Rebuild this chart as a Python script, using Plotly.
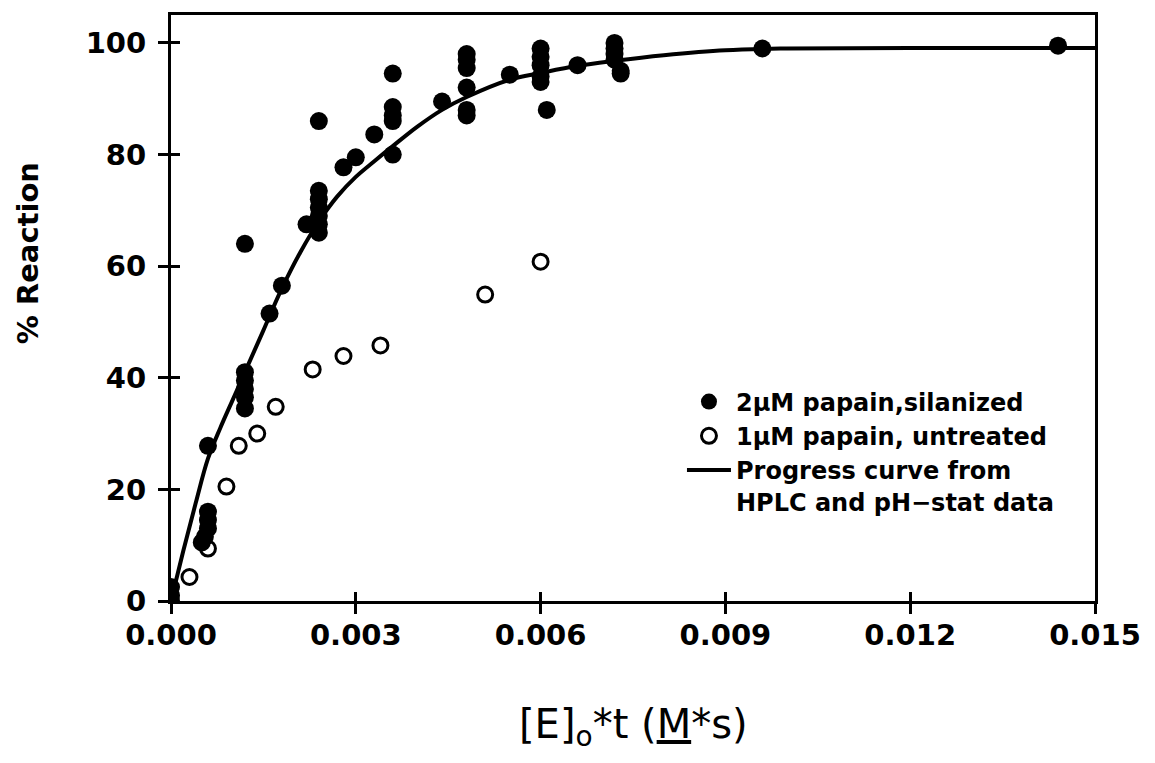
import plotly.graph_objects as go

# ---- data ----
silanized_x = [0, 0, 0,
               0.0005, 0.00055, 0.0006, 0.0006, 0.0006, 0.0006,
               0.0012, 0.0012, 0.0012, 0.0012, 0.0012, 0.0012,
               0.0016, 0.0018, 0.0022,
               0.0024, 0.0024, 0.0024, 0.0024, 0.0024, 0.0024, 0.0024,
               0.0028, 0.0030, 0.0033,
               0.0036, 0.0036, 0.0036, 0.0036, 0.0036,
               0.0044,
               0.0048, 0.0048, 0.0048, 0.0048, 0.0048, 0.0048,
               0.0055,
               0.0060, 0.0060, 0.0060, 0.0060, 0.0060, 0.0061,
               0.0066,
               0.0072, 0.0072, 0.0072, 0.0072, 0.0073, 0.0073,
               0.0096, 0.0144]
silanized_y = [0, 1, 2.5,
               10.5, 11.5, 13, 14.5, 16, 27.8,
               34.5, 36.5, 38, 39.5, 41, 64,
               51.5, 56.5, 67.5,
               66, 67.5, 69, 70.5, 72, 73.5, 86,
               77.7, 79.5, 83.6,
               80, 86, 87, 88.5, 94.5,
               89.5,
               87, 88, 92, 95.5, 97, 98,
               94.3,
               93, 94, 96, 97.5, 99, 88,
               96,
               97, 98, 99, 100, 94.5, 95,
               99, 99.5]

untreated_x = [0.0003, 0.0006, 0.0009, 0.0011, 0.0014, 0.0017,
               0.0023, 0.0028, 0.0034, 0.0051, 0.0060]
untreated_y = [4.3, 9.4, 20.5, 27.8, 30, 34.8,
               41.5, 43.9, 45.8, 54.9, 60.8]

curve_x = [0, 0.0002, 0.0004, 0.0006, 0.0008, 0.0010, 0.0012, 0.0015,
           0.0018, 0.0021, 0.0024, 0.0027, 0.0030, 0.0033, 0.0036, 0.0040,
           0.0044, 0.0048, 0.0055, 0.0060, 0.0066, 0.0072, 0.0080, 0.0090,
           0.0100, 0.0120, 0.0150]
curve_y = [0, 9, 17.5, 25.5, 31, 36, 41, 48.5,
           56, 62.5, 68, 72.5, 76, 78.8, 81.5, 85,
           88, 90.3, 93.4, 94.6, 95.9, 96.8, 97.8, 98.7,
           99, 99.1, 99.1]

x_ticks = [0, 0.003, 0.006, 0.009, 0.012, 0.015]
y_ticks = [0, 20, 40, 60, 80, 100]

FONT = "DejaVu Sans"

fig = go.Figure()
fig.add_trace(go.Scatter(
    x=curve_x, y=curve_y, mode="lines", line_shape="spline",
    name="Progress curve from<br>HPLC and pH\u2212stat data",
    line=dict(color="black", width=4), legendrank=3,
))
fig.add_trace(go.Scatter(
    x=silanized_x, y=silanized_y, mode="markers",
    name="2\u03bcM papain,silanized",
    marker=dict(symbol="circle", size=18, color="black"), legendrank=1,
))
fig.add_trace(go.Scatter(
    x=untreated_x, y=untreated_y, mode="markers",
    name="1\u03bcM papain, untreated",
    marker=dict(symbol="circle-open", size=15, color="black",
                line=dict(width=3, color="black")), legendrank=2,
))
# helper trace for the inner half of the crossing ticks
fig.add_trace(go.Scatter(x=[None], y=[None], xaxis="x2", yaxis="y2",
                         showlegend=False, hoverinfo="skip"))

tickfont = dict(family=FONT, size=29, color="black", weight="bold")
fig.update_layout(
    width=1155, height=763,
    # page body adds an 8px offset; margins compensate for it
    margin=dict(l=163, r=68, t=4, b=170),
    paper_bgcolor="white", plot_bgcolor="white",
    xaxis=dict(range=[0, 0.015], tickvals=x_ticks, tickformat=".3f",
               ticks="outside", ticklen=10, tickwidth=3, tickcolor="black",
               showline=True, linewidth=3, linecolor="black", mirror=True,
               showgrid=False, zeroline=False, tickfont=tickfont,
               ticklabelstandoff=-4),
    yaxis=dict(range=[0, 105], tickvals=y_ticks,
               ticks="outside", ticklen=10, tickwidth=3, tickcolor="black",
               showline=True, linewidth=3, linecolor="black", mirror=True,
               showgrid=False, zeroline=False, tickfont=tickfont,
               ticklabelstandoff=6),
    xaxis2=dict(range=[0, 0.015], tickvals=x_ticks, overlaying="x",
                anchor="y", side="bottom", ticks="inside", ticklen=9,
                tickwidth=3, tickcolor="black", showticklabels=False,
                showline=False, showgrid=False, zeroline=False),
    yaxis2=dict(range=[0, 105], tickvals=y_ticks, overlaying="y",
                anchor="x", side="left", ticks="inside", ticklen=9,
                tickwidth=3, tickcolor="black", showticklabels=False,
                showline=False, showgrid=False, zeroline=False),
    legend=dict(x=0.553, y=0.378, xanchor="left", yanchor="top",
                font=dict(family=FONT, size=24, color="black", weight="bold"),
                bgcolor="rgba(0,0,0,0)", valign="top", tracegroupgap=0,
                itemwidth=44),
    showlegend=True,
)

fig.add_annotation(
    text="% Reaction", textangle=-90, showarrow=False,
    xref="paper", yref="paper", x=-0.155, y=0.593,
    xanchor="center", yanchor="middle",
    font=dict(family=FONT, size=29, color="black", weight="bold"),
)
fig.add_annotation(
    text="[E]<sub>o</sub>*t (<u>M</u>*s)", showarrow=False,
    xref="paper", yref="paper", x=0.5, y=-0.215,
    xanchor="center", yanchor="middle",
    font=dict(family=FONT, size=40, color="black"),
)

fig.write_html("out.html")
